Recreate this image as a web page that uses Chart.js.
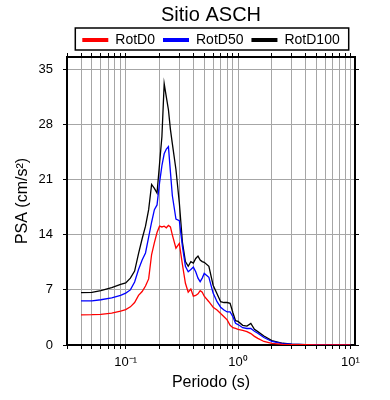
<!DOCTYPE html>
<html>
<head>
<meta charset="utf-8">
<script src="https://cdn.jsdelivr.net/npm/chart.js@4"></script>
<style>
  html, body { margin: 0; padding: 0; background: #fff; }
</style>
</head>
<body>
<canvas id="chart" width="390" height="400"></canvas>
<script>
const periods = [0.04, 0.05, 0.06, 0.075, 0.09,
  0.1, 0.11, 0.12, 0.13, 0.14, 0.15, 0.16, 0.17, 0.18, 0.19, 0.2, 0.21, 0.22, 0.23, 0.24, 0.25, 0.26,
  0.28, 0.3, 0.32, 0.34, 0.36, 0.38, 0.4, 0.42, 0.44, 0.46, 0.48, 0.5,
  0.55, 0.6, 0.65, 0.7, 0.75, 0.8, 0.85, 0.9, 0.95, 1.0,
  1.1, 1.2, 1.3, 1.4, 1.5, 1.7, 2.0, 2.5, 3.0, 4.0, 5.0, 7.5, 10]

const rotD0 = [3.82, 3.85, 3.9, 4.05, 4.3,
  4.5, 4.85, 5.4, 6.3, 6.8, 7.5, 8.4, 11.5, 13.0, 14.3, 15.1, 15.0, 15.1, 14.9, 15.2, 15.0, 14.0,
  12.3, 12.9, 10.2, 7.85, 6.7, 7.1, 6.2, 6.3, 6.5, 6.9, 6.7, 6.2,
  5.5, 4.8, 4.45, 4.0, 3.6, 3.2, 2.5, 2.2, 2.1, 2.0,
  1.85, 1.7, 1.45, 1.1, 0.85, 0.45, 0.2, 0.08, 0.05, 0.03, 0.02, 0.01, 0.005]

const rotD50 = [5.6, 5.6, 5.75, 6.0, 6.3,
  6.6, 7.0, 8.0, 9.6, 10.8, 11.7, 13.7, 15.6, 17.2, 17.8, 20.6, 22.8, 24.3, 24.9, 25.2, 22.0, 19.0,
  16.0, 15.8, 12.5, 10.0, 9.3, 9.6, 9.9, 9.3, 8.5, 8.05, 8.5, 9.1,
  8.6, 6.6, 5.5, 4.8, 4.45, 4.2, 4.2, 3.6, 2.75, 2.6,
  2.2, 2.1, 2.1, 1.75, 1.5, 0.95, 0.45, 0.18, 0.1, 0.05, 0.03, 0.015, 0.01]

const rotD100 = [6.66, 6.7, 6.9, 7.3, 7.7,
  7.9, 8.5, 9.4, 11.6, 13.5, 15.1, 17.2, 20.4, 19.9, 19.3, 23.0, 26.5, 33.2, 31.5, 29.9, 27.4, 25.6,
  22.3, 18.1, 13.0, 10.6, 10.0, 10.6, 10.4, 11.0, 11.3, 10.8, 10.6, 10.5,
  10.0, 7.6, 6.5, 5.5, 5.4, 5.4, 5.3, 4.1, 3.1, 3.0,
  2.5, 2.4, 2.75, 2.0, 1.7, 1.15, 0.55, 0.22, 0.12, 0.06, 0.04, 0.02, 0.01]

const xTicks = [0.03, 0.04, 0.05, 0.06, 0.07, 0.08, 0.09,
  0.1, 0.2, 0.3, 0.4, 0.5, 0.6, 0.7, 0.8, 0.9,
  1, 2, 3, 4, 5, 6, 7, 8, 9, 10]
const xLabels = { 0.1: '10⁻¹', 1: '10⁰', 10: '10¹' }
const yTicks = [0, 7, 14, 21, 28, 35]

const font = 'Liberation Sans'
const gridColor = '#a6a6a6'

const toPoints = (vals) => periods.map((p, i) => ({ x: p, y: vals[i] }))

// frame around the legend, like the original figure
const legendFrame = {
  id: 'legendFrame',
  afterDraw(chart) {
    const lg = chart.legend
    if (!lg || !lg.legendHitBoxes.length) return
    const boxes = lg.legendHitBoxes
    const last = boxes[boxes.length - 1]
    const left = boxes[0].left - 7
    const right = last.left + last.width + 9
    const top = lg.top + 3
    const ctx = chart.ctx
    ctx.save()
    ctx.strokeStyle = '#000'
    ctx.lineWidth = 1.5
    ctx.strokeRect(left, top, right - left, 22)
    ctx.restore()
  }
}

const logAxis = (position, extra) => Object.assign({
  type: 'logarithmic',
  position: position,
  min: 0.03,
  max: 11,
  afterBuildTicks: (s) => { s.ticks = xTicks.map(v => ({ value: v, major: v in xLabels })) },
  border: { color: '#000', width: 2 },
}, extra)

const ctx = document.getElementById('chart')

new Chart(ctx, {
  type: 'line',
  data: {
    datasets: [
      { label: 'RotD0', data: toPoints(rotD0), borderColor: '#ff0000', backgroundColor: '#ff0000' },
      { label: 'RotD50', data: toPoints(rotD50), borderColor: '#0000ff', backgroundColor: '#0000ff' },
      { label: 'RotD100', data: toPoints(rotD100), borderColor: '#000000', backgroundColor: '#000000' }
    ]
  },
  options: {
    responsive: false,
    animation: false,
    layout: { padding: 0 },
    elements: {
      line: { borderWidth: 1.3, tension: 0 },
      point: { radius: 0 }
    },
    plugins: {
      title: {
        display: true,
        text: 'Sitio ASCH',
        fullSize: false,
        color: '#000',
        font: { family: font, size: 20, weight: 'normal', lineHeight: 1 },
        padding: { top: 5, bottom: 0 }
      },
      legend: {
        fullSize: false,
        maxHeight: 24,
        labels: {
          color: '#000',
          font: { family: font, size: 14 },
          boxWidth: 26,
          boxHeight: 4,
          padding: 8,
          generateLabels: (chart) => chart.data.datasets.map((d, i) => ({
            text: d.label,
            fillStyle: d.borderColor,
            strokeStyle: d.borderColor,
            lineWidth: 0,
            datasetIndex: i
          }))
        }
      },
      tooltip: { enabled: false }
    },
    scales: {
      x: logAxis('bottom', {
        afterFit: (s) => { s.height = 55 },
        grid: { color: gridColor, lineWidth: 1, tickColor: '#000', tickLength: 4 },
        ticks: {
          autoSkip: false,
          maxRotation: 0,
          padding: 6,
          color: '#000',
          font: { family: font, size: 13 },
          callback: (v) => xLabels[v] || ''
        },
        title: {
          display: true,
          text: 'Periodo (s)',
          color: '#000',
          font: { family: font, size: 16 },
          padding: { top: 0, bottom: 8 }
        }
      }),
      x2: logAxis('top', {
        afterFit: (s) => { s.height = 8 },
        grid: { drawOnChartArea: false, tickColor: '#000', tickLength: 4 },
        ticks: { display: false }
      }),
      y: {
        type: 'linear',
        position: 'left',
        min: 0,
        max: 36.6,
        afterBuildTicks: (s) => { s.ticks = yTicks.map(v => ({ value: v })) },
        afterFit: (s) => { s.width = 67 },
        border: { color: '#000', width: 2 },
        grid: { color: gridColor, lineWidth: 1, tickColor: '#000', tickLength: 4 },
        ticks: {
          padding: 10,
          color: '#000',
          font: { family: font, size: 13 }
        },
        title: {
          display: true,
          text: 'PSA (cm/s²)',
          color: '#000',
          font: { family: font, size: 16 },
          padding: { top: 13, bottom: 0 }
        }
      },
      y2: {
        type: 'linear',
        position: 'right',
        min: 0,
        max: 36.6,
        afterBuildTicks: (s) => { s.ticks = yTicks.map(v => ({ value: v })) },
        afterFit: (s) => { s.width = 35 },
        border: { color: '#000', width: 2 },
        grid: { drawOnChartArea: false, tickColor: '#000', tickLength: 4 },
        ticks: { display: false }
      }
    }
  },
  plugins: [legendFrame]
})
</script>
</body>
</html>
